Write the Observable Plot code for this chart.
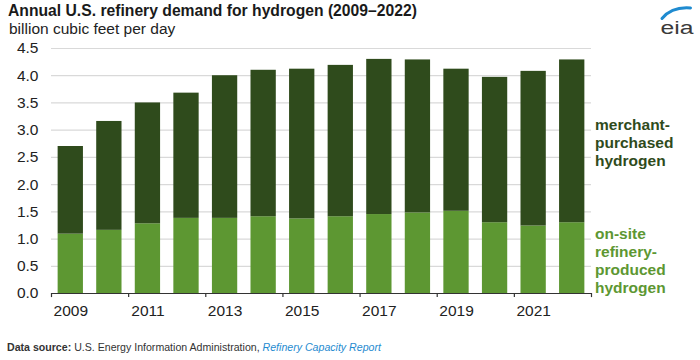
<!DOCTYPE html>
<html>
<head>
<meta charset="utf-8">
<script src="https://cdn.jsdelivr.net/npm/d3@7"></script>
<script src="https://cdn.jsdelivr.net/npm/@observablehq/plot@0.6"></script>
<style>
  html, body { margin: 0; padding: 0; background: #fff; }
  #wrap { position: relative; width: 700px; height: 360px; overflow: hidden; font-family: "Liberation Sans", Arial, sans-serif; color: #222; }
  .abs { position: absolute; white-space: nowrap; }
  #title { left: 8px; top: 2px; font-size: 15.7px; font-weight: bold; color: #1a1a1a; }
  #subtitle { left: 9px; top: 20px; font-size: 15.5px; color: #222; }
  .lab { font-size: 15.5px; font-weight: bold; line-height: 18px; }
  #labM { left: 595px; top: 116px; color: #2f4b1c; }
  #labO { left: 595px; top: 225px; color: #5d9732; }
  #foot { left: 7px; top: 341px; font-size: 10.6px; color: #333; }
  #foot a { color: #1f8bd0; font-style: italic; text-decoration: none; }
  #plot { position: absolute; left: 0; top: 40px; }
  #logo { position: absolute; left: 640px; top: 0px; }
</style>
</head>
<body>
<div id="wrap">
  <div id="title" class="abs">Annual U.S. refinery demand for hydrogen (2009–2022)</div>
  <div id="subtitle" class="abs">billion cubic feet per day</div>
  <div id="plot"></div>
  <div id="labM" class="abs lab">merchant-<br>purchased<br>hydrogen</div>
  <div id="labO" class="abs lab">on-site<br>refinery-<br>produced<br>hydrogen</div>
  <div id="foot" class="abs"><b>Data source:</b> U.S. Energy Information Administration, <a>Refinery Capacity Report</a></div>
  <svg id="logo" width="60" height="45" viewBox="0 0 60 45">
    <path d="M22 18.5 Q32 6.5 50.5 8" fill="none" stroke="#1f8bd0" stroke-width="3" stroke-linecap="round"/>
    <text x="20.5" y="33.5" font-family="Liberation Sans, Arial" font-size="18" textLength="33" lengthAdjust="spacingAndGlyphs" fill="#3a3a3a">eia</text>
  </svg>
</div>
<script>
const years = [2009, 2010, 2011, 2012, 2013, 2014, 2015, 2016, 2017, 2018, 2019, 2020, 2021, 2022];
const onsite = [1.09, 1.16, 1.28, 1.38, 1.38, 1.41, 1.37, 1.41, 1.45, 1.48, 1.51, 1.30, 1.24, 1.30];
const merchant = [1.61, 2.00, 2.22, 2.30, 2.62, 2.69, 2.75, 2.78, 2.85, 2.81, 2.61, 2.67, 2.84, 2.99];
const seriesNames = ["on-site refinery-produced hydrogen", "merchant-purchased hydrogen"];
const seriesColors = ["#5d9732", "#2f4b1c"];
const yTicks = [0, 0.5, 1, 1.5, 2, 2.5, 3, 3.5, 4, 4.5];
const xTickYears = [2009, 2011, 2013, 2015, 2017, 2019, 2021];

const rows = [];
years.forEach((yr, i) => rows.push({year: yr, series: seriesNames[0], value: onsite[i]}));
years.forEach((yr, i) => rows.push({year: yr, series: seriesNames[1], value: merchant[i]}));

const W = 700, H = 290, mL = 51, mR = 109, mT = 8, mB = 37;
const step = (W - mL - mR) / years.length;

const chart = Plot.plot({
  width: W, height: H,
  marginLeft: mL, marginRight: mR, marginTop: mT, marginBottom: mB,
  style: {fontFamily: "Liberation Sans, Arial, sans-serif", fontSize: "15.5px", color: "#222", background: "transparent"},
  x: {type: "band", domain: years, paddingInner: 0.344, paddingOuter: 0.172, round: false, label: null},
  y: {domain: [0, 4.5], label: null},
  color: {domain: seriesNames, range: seriesColors},
  marks: [
    Plot.gridY(yTicks.filter(d => d > 0), {stroke: "#d9d9d9", strokeOpacity: 1, strokeWidth: 1.2}),
    Plot.axisY({ticks: yTicks, tickSize: 0, tickPadding: 13, tickFormat: d => d.toFixed(1), label: null}),
    Plot.barY(rows, {x: "year", y: "value", fill: "series"}),
    Plot.ruleY([0], {stroke: "#333", strokeWidth: 1.2}),
    Plot.ruleX(xTickYears, {x: d => d, y1: 0, y2: -0.075, dx: -step / 2, stroke: "#333", strokeWidth: 1.2}),
    Plot.ruleX([years[years.length - 1]], {x: d => d, y1: 0, y2: -0.075, dx: step / 2, stroke: "#333", strokeWidth: 1.2}),
    Plot.axisX({ticks: xTickYears, tickSize: 0, tickPadding: 11, tickFormat: d => String(d), label: null})
  ]
});
document.getElementById("plot").appendChild(chart);
</script>
</body>
</html>
